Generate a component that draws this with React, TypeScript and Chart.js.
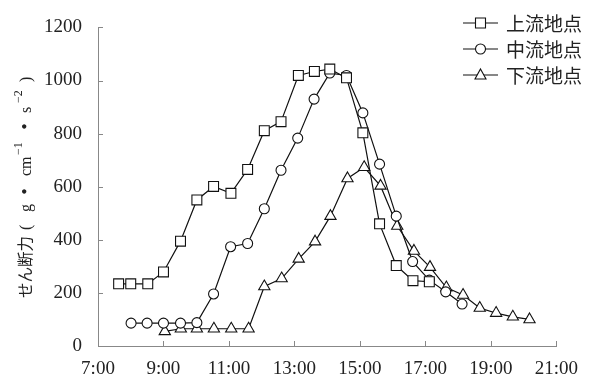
import React, { useEffect, useRef } from "react";
import { Chart, registerables } from "chart.js";

Chart.register(...registerables);

// ---- Data (times in decimal hours) ----
const seriesNames = ["上流地点", "中流地点", "下流地点"];

const upperTimes = [7.63, 8.0, 8.52, 9.0, 9.52, 10.02, 10.53, 11.06, 11.57, 12.08, 12.59, 13.12, 13.61, 14.08, 14.59, 15.09, 15.6, 16.11, 16.62, 17.12];
const upperValues = [234, 234, 234, 279, 395, 550, 601, 575, 665, 811, 845, 1019, 1034, 1043, 1010, 803, 460, 303, 246, 242];

const middleTimes = [8.01, 8.5, 9.0, 9.52, 10.02, 10.53, 11.05, 11.57, 12.08, 12.59, 13.1, 13.6, 14.08, 14.59, 15.09, 15.6, 16.11, 16.61, 17.12, 17.62, 18.12];
const middleValues = [86, 86, 86, 86, 88, 196, 374, 386, 517, 662, 783, 930, 1028, 1019, 878, 685, 489, 318, 248, 204, 158];

const lowerTimes = [9.04, 9.53, 10.02, 10.54, 11.07, 11.6, 12.08, 12.61, 13.13, 13.63, 14.1, 14.62, 15.13, 15.63, 16.14, 16.65, 17.14, 17.64, 18.15, 18.66, 19.16, 19.67, 20.18];
const lowerValues = [55, 65, 65, 65, 65, 65, 224, 254, 328, 393, 489, 631, 673, 603, 452, 358, 297, 220, 192, 143, 124, 110, 100];

const xTickValues = [7, 9, 11, 13, 15, 17, 19, 21];
const xTickLabels = ["7:00", "9:00", "11:00", "13:00", "15:00", "17:00", "19:00", "21:00"];
const yTickValues = [0, 200, 400, 600, 800, 1000, 1200];
const yTickLabels = ["0", "200", "400", "600", "800", "1000", "1200"];

// y-axis title pieces: せん断力 (g・cm⁻¹・s⁻²)
const yTitleParts = ["せん断力", "(", "g", "・", "cm", "−1", "・", "s", "−2", ")"];

const pointStyles = ["rect", "circle", "triangle"] as const;
const pointRadii = [7, 5, 6.5];

function toPoints(t: number[], v: number[]) {
  return t.map((x, i) => ({ x, y: v[i] }));
}

const serifFont = "'Liberation Serif', 'Noto Sans CJK JP', serif";
const jpFont = "'Noto Sans CJK JP', sans-serif";

// layout of title pieces along the rotated axis (offset from the bottom end, px), and kind
const titleLayout: { off: number; kind: "jp" | "serif" | "sup" | "dot" }[] = [
  { off: 0, kind: "jp" },
  { off: 68, kind: "serif" },
  { off: 86, kind: "serif" },
  { off: 98, kind: "dot" },
  { off: 122, kind: "serif" },
  { off: 143, kind: "sup" },
  { off: 163, kind: "dot" },
  { off: 185, kind: "serif" },
  { off: 195, kind: "sup" },
  { off: 216, kind: "serif" },
];

const customPlugin = {
  id: "custom",
  afterDraw(chart: any) {
    const ctx = chart.ctx as CanvasRenderingContext2D;
    const xs = chart.scales.x;
    const ys = chart.scales.y;
    ctx.save();
    // inward tick marks
    ctx.strokeStyle = "#888";
    ctx.lineWidth = 1;
    ctx.beginPath();
    const bottom = ys.bottom;
    const left = xs.left;
    xTickValues.forEach((v) => {
      const px = Math.round(xs.getPixelForValue(v)) + 0.5;
      ctx.moveTo(px, bottom);
      ctx.lineTo(px, bottom - 5);
    });
    yTickValues.forEach((v) => {
      const py = Math.round(ys.getPixelForValue(v)) + 0.5;
      ctx.moveTo(left, py);
      ctx.lineTo(left + 5, py);
    });
    ctx.stroke();

    // y-axis title (rotated)
    ctx.save();
    ctx.translate(25, 298);
    ctx.rotate(-Math.PI / 2);
    ctx.fillStyle = "#222";
    ctx.textAlign = "left";
    ctx.textBaseline = "alphabetic";
    yTitleParts.forEach((txt, i) => {
      const l = titleLayout[i];
      let yBase = 6;
      if (l.kind === "jp") {
        ctx.font = `15.5px ${jpFont}`;
      } else if (l.kind === "dot") {
        ctx.font = `bold 17px ${jpFont}`;
      } else if (l.kind === "sup") {
        ctx.font = `12px ${serifFont}`;
        yBase = -3;
      } else {
        ctx.font = `16px ${serifFont}`;
      }
      ctx.fillText(txt, l.off, yBase);
    });
    ctx.restore();

    // legend
    const rows = [23, 49, 75];
    rows.forEach((ry, i) => {
      ctx.strokeStyle = "#111";
      ctx.lineWidth = 1.2;
      ctx.beginPath();
      ctx.moveTo(463, ry);
      ctx.lineTo(498, ry);
      ctx.stroke();
      ctx.fillStyle = "#fff";
      ctx.lineWidth = 1.1;
      const cx = 480.5;
      ctx.beginPath();
      if (i === 0) {
        ctx.rect(cx - 5, ry - 5, 10, 10);
      } else if (i === 1) {
        ctx.arc(cx, ry, 5, 0, Math.PI * 2);
      } else {
        ctx.moveTo(cx, ry - 6);
        ctx.lineTo(cx + 5.5, ry + 4);
        ctx.lineTo(cx - 5.5, ry + 4);
        ctx.closePath();
      }
      ctx.fill();
      ctx.stroke();
      ctx.fillStyle = "#222";
      ctx.font = `19px ${jpFont}`;
      ctx.textBaseline = "middle";
      ctx.textAlign = "left";
      ctx.fillText(seriesNames[i], 506, ry + 1);
    });
    ctx.restore();
  },
};

export default function App() {
  const canvasRef = useRef<HTMLCanvasElement | null>(null);

  useEffect(() => {
    const canvas = canvasRef.current;
    if (!canvas) return;
    const datas = [
      toPoints(upperTimes, upperValues),
      toPoints(middleTimes, middleValues),
      toPoints(lowerTimes, lowerValues),
    ];
    const chart = new Chart(canvas, {
      type: "line",
      data: {
        datasets: datas.map((d, i) => ({
          label: seriesNames[i],
          data: d,
          borderColor: "#111",
          borderWidth: 1.2,
          backgroundColor: "#fff",
          pointStyle: pointStyles[i],
          pointRadius: pointRadii[i],
          pointBorderWidth: 1.1,
          pointBorderColor: "#111",
          pointBackgroundColor: "#fff",
          tension: 0,
          fill: false,
        })),
      },
      options: {
        animation: false,
        responsive: false,
        maintainAspectRatio: false,
        layout: { padding: { left: 0, right: 32, top: 19, bottom: 0 } },
        plugins: {
          legend: { display: false },
          tooltip: { enabled: false },
        },
        scales: {
          x: {
            type: "linear",
            min: 7,
            max: 21,
            afterFit: (s: any) => {
              s.height = 39;
            },
            afterBuildTicks: (s: any) => {
              s.ticks = xTickValues.map((v) => ({ value: v }));
            },
            ticks: {
              autoSkip: false,
              maxRotation: 0,
              padding: 12,
              color: "#222",
              font: { family: serifFont, size: 19 },
              callback: (v: any) => {
                const idx = xTickValues.indexOf(Number(v));
                return idx >= 0 ? xTickLabels[idx] : "";
              },
            },
            grid: { display: true, drawOnChartArea: false, drawTicks: false },
            border: { display: true, color: "#888", width: 1 },
          },
          y: {
            type: "linear",
            min: 0,
            max: 1200,
            afterFit: (s: any) => {
              s.width = 98;
            },
            afterBuildTicks: (s: any) => {
              s.ticks = yTickValues.map((v) => ({ value: v }));
            },
            ticks: {
              padding: 16,
              color: "#222",
              font: { family: serifFont, size: 19 },
              callback: (v: any) => {
                const idx = yTickValues.indexOf(Number(v));
                return idx >= 0 ? yTickLabels[idx] : "";
              },
            },
            grid: { display: true, drawOnChartArea: false, drawTicks: false },
            border: { display: true, color: "#888", width: 1 },
          },
        },
      },
      plugins: [customPlugin],
    });
    return () => chart.destroy();
  }, []);

  return (
    <div style={{ position: "absolute", left: 0, top: 0, width: 590, height: 385, background: "#fff" }}>
      <canvas ref={canvasRef} width={590} height={385} style={{ width: 590, height: 385, display: "block" }} />
    </div>
  );
}
